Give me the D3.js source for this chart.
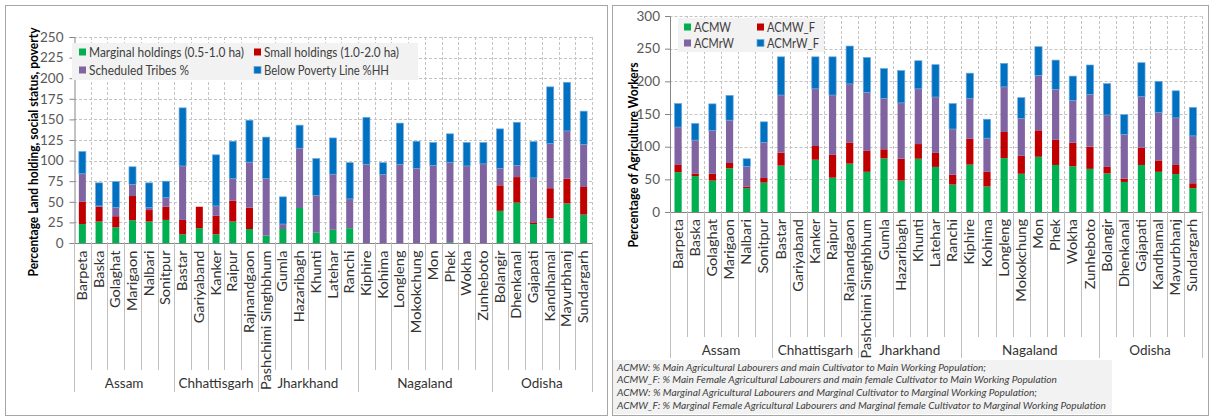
<!DOCTYPE html>
<html>
<head>
<meta charset="utf-8">
<script src="https://cdn.jsdelivr.net/npm/d3@7"></script>
<style>
  body { margin: 0; background: #fff; }
  svg { display: block; font-family: Lato, "Open Sans", sans-serif; }
</style>
</head>
<body>
<svg id="chart" width="1209" height="417"></svg>
<script>
// Districts, grouped by state (in order)
const districts = ["Barpeta", "Baska", "Golaghat", "Marigaon", "Nalbari", "Sonitpur",
  "Bastar", "Gariyaband", "Kanker", "Raipur", "Rajnandgaon",
  "Pashchimi Singhbhum", "Gumla", "Hazaribagh", "Khunti", "Latehar", "Ranchi",
  "Kiphire", "Kohima", "Longleng", "Mokokchung", "Mon", "Phek", "Wokha", "Zunheboto",
  "Bolangir", "Dhenkanal", "Gajapati", "Kandhamal", "Mayurbhanj", "Sundargarh"];
const states = ["Assam", "Chhattisgarh", "Jharkhand", "Nagaland", "Odisha"];
const stateSizes = [6, 5, 6, 8, 6];

// Land holding, social status and poverty (%)
const marginalHoldings = [23, 26, 19, 27.5, 26, 28, 10.5, 18, 10.5, 26, 17, 9, 17, 42.5, 12.5, 16, 18,
  0, 0, 0, 0, 0, 1, 0, 0, 39, 49, 23, 30, 48, 34.5];
const smallHoldings = [27, 18, 13.5, 29.5, 14, 16, 17.5, 26, 22.5, 25.5, 26, 0, 0, 0, 0, 0, 0,
  0, 0, 0, 0, 0, 0, 0, 0, 31, 31, 2, 36.5, 30, 33.5];
const scheduledTribes = [34, 1, 10.5, 14, 3, 11, 65.5, 0, 12, 26.5, 55, 69, 6, 72.5, 45, 67.5, 35.5,
  95.5, 83, 95.5, 90.5, 94, 96.5, 93.5, 96, 20.5, 14, 54, 54, 58, 51.5];
const belowPovertyLine = [27, 28, 31.5, 21.5, 30, 20, 70.5, 0, 62, 45.5, 51, 50.5, 33, 28, 45, 44, 44,
  57, 14.5, 50, 33, 28, 35, 28.5, 26, 48, 52.5, 44, 69, 59, 40.5];
const landTicks = [0, 25, 50, 75, 100, 125, 150, 175, 200, 225, 250];

// Agriculture workers (%)
const acmw = [61, 55, 48, 67, 36.5, 45, 71, 0, 80, 52.5, 74, 61.5, 82, 48, 81.5, 69, 42,
  72.5, 39, 82.5, 58.5, 84.5, 72, 70, 66, 59, 46, 72, 61.5, 58, 36.5];
const acmwF = [11, 4, 10.5, 8, 2.5, 7, 20, 0, 21, 35, 32.5, 32, 14, 33.5, 22.5, 21.5, 15,
  39.5, 22.5, 40, 27.5, 40.5, 38.5, 36, 34, 10, 5, 26.5, 17.5, 14, 7.5];
const acmrw = [58, 51, 66, 65.5, 30.5, 54.5, 88, 0, 87.5, 91.5, 89.5, 89.5, 78, 85.5, 84.5, 85.5, 70,
  62, 51.5, 69, 57, 84, 77, 64.5, 80, 79.5, 67.5, 78, 73, 72, 72.5];
const acmrwF = [36, 25.5, 41, 38, 12, 31.5, 58.5, 0, 49, 58.5, 58, 53.5, 45.5, 49.5, 43, 49.5, 39,
  38.5, 29, 36, 32, 44, 45, 37.5, 45, 48, 30.5, 52, 48, 41.5, 43.5];
const workTicks = [0, 50, 100, 150, 200, 250, 300];

const footnotes = [
  "ACMW: % Main Agricultural Labourers and main Cultivator to Main Working Population;",
  "ACMW_F: % Main Female Agricultural Labourers and main female Cultivator to Main Working Population",
  "ACMW: % Marginal Agricultural Labourers and Marginal Cultivator to Marginal Working Population;",
  "ACMW_F: % Marginal Female Agricultural Labourers and Marginal female Cultivator to Marginal Working Population"
];

const GREEN = "#00b050", RED = "#c00000", PURPLE = "#8064a2", BLUE = "#0070c0";
const svg = d3.select("#chart");

function drawPanel(o) {
  const g = svg.append("g");

  // frame
  g.append("rect").attr("x", o.frame[0] + 0.5).attr("y", o.frame[1] + 0.5)
    .attr("width", o.frame[2]).attr("height", o.frame[3])
    .attr("fill", "#fff").attr("stroke", "#a6a6a6");

  const n = districts.length;
  const x = d3.scaleBand().domain(districts).range([o.left, o.right])
    .paddingInner(0.58).paddingOuter(0.29);
  const step = x.step();
  const y = d3.scaleLinear().domain([0, o.yMax]).range([o.bottom, o.top]);

  // gridlines
  g.append("g").selectAll("line").data(o.ticks.slice(1)).join("line")
    .attr("x1", o.left).attr("x2", o.right)
    .attr("y1", d => Math.round(y(d)) + 0.5).attr("y2", d => Math.round(y(d)) + 0.5)
    .attr("stroke", "#c4c4c4").attr("stroke-dasharray", "3,2");
  g.append("g").selectAll("line").data(d3.range(1, n + 1)).join("line")
    .attr("x1", i => Math.round(o.left + i * step) + 0.5).attr("x2", i => Math.round(o.left + i * step) + 0.5)
    .attr("y1", o.top).attr("y2", o.bottom)
    .attr("stroke", "#c4c4c4").attr("stroke-dasharray", "3,2");

  // stacked bars
  const rows = districts.map((d, i) => {
    const r = { district: d };
    o.series.forEach(s => { r[s.key] = s.values[i]; });
    return r;
  });
  const stacked = d3.stack().keys(o.series.map(s => s.key))(rows);
  g.append("g").selectAll("g").data(stacked).join("g")
    .attr("fill", (d, i) => o.series[i].color)
    .attr("stroke", (d, i) => o.series[i].color === BLUE ? "#6fa8dc" : "none")
    .attr("stroke-width", 0.7)
    .selectAll("rect").data(d => d.filter(v => v[1] - v[0] > 0)).join("rect")
    .attr("x", d => x(d.data.district))
    .attr("width", x.bandwidth())
    .attr("y", d => y(d[1]))
    .attr("height", d => y(d[0]) - y(d[1]));

  // y axis
  const ya = g.append("g").attr("transform", `translate(${o.left + 0.5},0)`)
    .call(d3.axisLeft(y).tickValues(o.ticks).tickSize(5).tickPadding(o.tickPad));
  ya.select(".domain").attr("stroke", "#868686");
  ya.selectAll(".tick line").attr("stroke", "#868686");
  ya.selectAll(".tick text").attr("fill", "#595959").style("font-size", "13.5px").style("font-family", "Lato, sans-serif");

  // x axis with rotated district names (stretched slightly along the reading direction)
  const xa = g.append("g").attr("transform", `translate(0,${o.bottom + 0.5})`)
    .call(d3.axisBottom(x).tickSize(0).tickSizeOuter(0));
  xa.select(".domain").attr("stroke", "#868686").attr("d", `M${o.left},0H${o.right}`);
  xa.selectAll(".tick text")
    .attr("transform", "rotate(-90)")
    .attr("x", -o.labelGap).attr("y", 0).attr("dy", "0.35em")
    .attr("text-anchor", "end")
    .attr("fill", "#333").style("font-size", "13px").style("font-family", "Lato, sans-serif")
    .each(function () {
      const w = this.getComputedTextLength();
      d3.select(this).attr("textLength", w * 1.12).attr("lengthAdjust", "spacingAndGlyphs");
    });

  // category and state separators below the axis
  const bounds = d3.range(0, n + 1);
  const groupStarts = [0];
  stateSizes.forEach(s => groupStarts.push(groupStarts[groupStarts.length - 1] + s));
  g.append("g").selectAll("line").data(bounds).join("line")
    .attr("x1", i => Math.round(o.left + i * step) + 0.5).attr("x2", i => Math.round(o.left + i * step) + 0.5)
    .attr("y1", o.bottom).attr("y2", i => groupStarts.includes(i) ? o.groupLineBottom : o.catLineBottom)
    .attr("stroke", "#bfbfbf");
  g.append("g").selectAll("text").data(states).join("text")
    .attr("x", (d, i) => o.left + (groupStarts[i] + groupStarts[i + 1]) / 2 * step)
    .attr("y", o.groupLabelY).attr("dy", "0.35em").attr("text-anchor", "middle")
    .attr("fill", "#333").style("font-size", "13.5px")
    .text(d => d);

  // y axis title
  g.append("text")
    .attr("transform", `translate(${o.title.x},${o.title.y}) rotate(-90)`)
    .attr("text-anchor", "middle").attr("dy", "0.35em")
    .attr("font-weight", "bold").attr("fill", "#000").style("font-size", "13px")
    .attr("textLength", o.title.len).attr("lengthAdjust", "spacingAndGlyphs")
    .text(o.title.text);

  // legend
  const L = o.legend;
  const lg = g.append("g");
  lg.append("rect").attr("x", L.box[0]).attr("y", L.box[1]).attr("width", L.box[2]).attr("height", L.box[3])
    .attr("fill", "#f2f2f2");
  o.series.forEach((s, i) => {
    const cx = L.cols[i % 2], cy = L.rows[Math.floor(i / 2)];
    lg.append("rect").attr("x", cx).attr("y", cy - 3.5).attr("width", 7).attr("height", 7)
      .attr("fill", s.color)
      .attr("stroke", s.color === BLUE ? "#6fa8dc" : "none").attr("stroke-width", 0.7);
    lg.append("text").attr("x", cx + 10).attr("y", cy).attr("dy", "0.35em")
      .attr("fill", "#404040").style("font-size", "13.5px")
      .attr("textLength", s.len).attr("lengthAdjust", "spacingAndGlyphs")
      .text(s.label);
  });
}

// Left panel: land holding, social status, poverty
drawPanel({
  frame: [5, 5, 602, 410],
  left: 74, right: 592, top: 37, bottom: 243,
  yMax: 250, ticks: landTicks, tickPad: 6,
  labelGap: 7, catLineBottom: 370, groupLineBottom: 392, groupLabelY: 383,
  title: { text: "Percentage Land holding, social status, poverty", x: 33, y: 152, len: 249 },
  legend: { box: [72, 43, 346, 37], cols: [79, 254], rows: [52, 70] },
  series: [
    { key: "marginal", label: "Marginal holdings (0.5-1.0 ha)", values: marginalHoldings, color: GREEN, len: 155 },
    { key: "small", label: "Small holdings (1.0-2.0 ha)", values: smallHoldings, color: RED, len: 135 },
    { key: "st", label: "Scheduled Tribes %", values: scheduledTribes, color: PURPLE, len: 100 },
    { key: "bpl", label: "Below Poverty Line %HH", values: belowPovertyLine, color: BLUE, len: 125 }
  ]
});

// Right panel: agriculture workers
drawPanel({
  frame: [612, 5, 596, 410],
  left: 669.5, right: 1201.5, top: 16, bottom: 212,
  yMax: 300, ticks: workTicks, tickPad: 5,
  labelGap: 6.5, catLineBottom: 337, groupLineBottom: 358, groupLabelY: 350,
  title: { text: "Percentage of Agriculture Workers", x: 633, y: 155, len: 185 },
  legend: { box: [678, 18, 146, 34], cols: [684, 757], rows: [27, 43] },
  series: [
    { key: "acmw", label: "ACMW", values: acmw, color: GREEN, len: 37 },
    { key: "acmwF", label: "ACMW_F", values: acmwF, color: RED, len: 48 },
    { key: "acmrw", label: "ACMrW", values: acmrw, color: PURPLE, len: 40 },
    { key: "acmrwF", label: "ACMrW_F", values: acmrwF, color: BLUE, len: 52 }
  ]
});

// Definitions of the worker indicators
const fn = svg.append("g");
fn.append("rect").attr("x", 613).attr("y", 360).attr("width", 499).attr("height", 54).attr("fill", "#f2f2f2");
const fnLens = [369, 440, 420, 489];
fn.selectAll("text").data(footnotes).join("text")
  .attr("x", 617).attr("y", (d, i) => 367 + i * 12.7).attr("dy", "0.35em")
  .attr("font-style", "italic").attr("fill", "#404040").style("font-size", "10px")
  .attr("textLength", (d, i) => fnLens[i]).attr("lengthAdjust", "spacingAndGlyphs")
  .text(d => d);
</script>
</body>
</html>
